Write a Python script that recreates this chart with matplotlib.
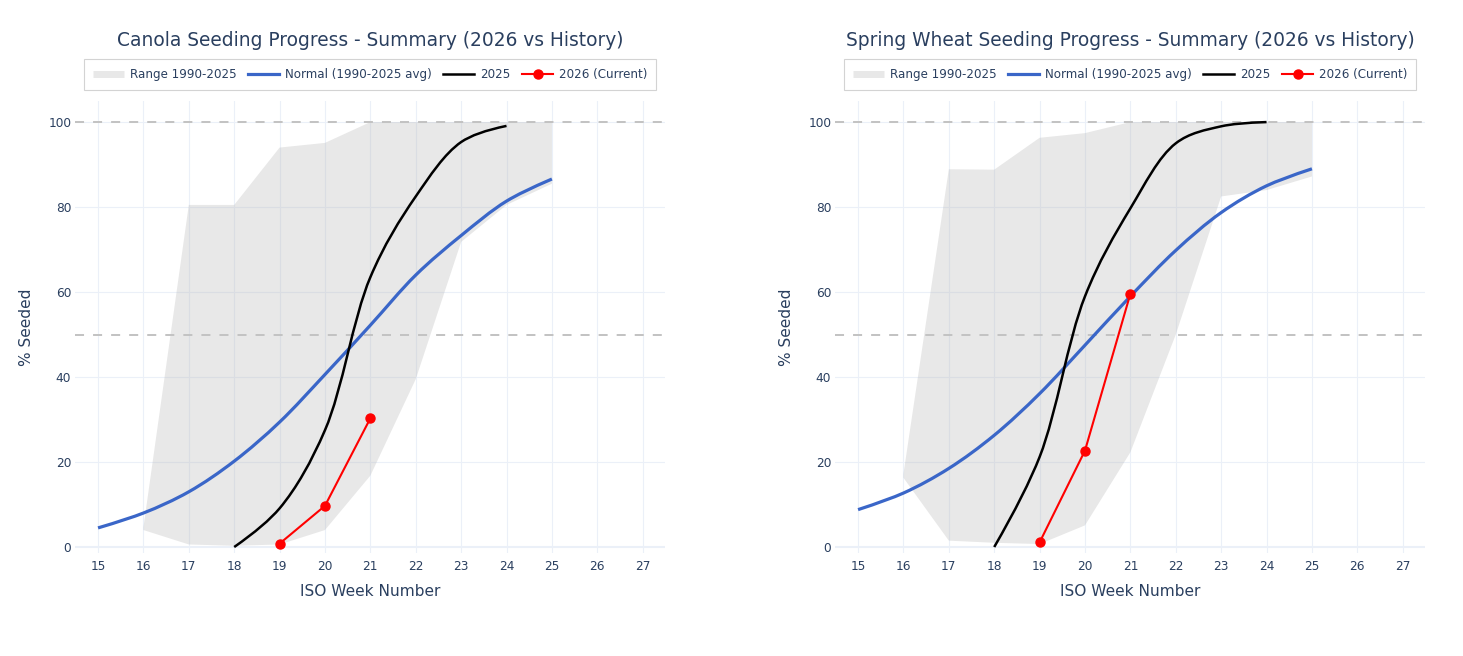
import matplotlib
matplotlib.use("Agg")
import matplotlib.pyplot as plt
from matplotlib.lines import Line2D
from matplotlib.path import Path
from matplotlib.patches import PathPatch


# Values
NORMAL_WEEKS = [15, 16, 17, 18, 19, 20, 21, 22, 23, 24, 25]
RANGE_WEEKS = [16, 17, 18, 19, 20, 21, 22, 23, 24, 25]
WEEKS_2025 = [18, 19, 20, 21, 22, 23, 24]
WEEKS_2026 = [19, 20, 21]

CANOLA_NORMAL = [4.5, 8.0, 13.0, 20.2, 29.4, 40.6, 52.2, 64.0, 73.3, 81.4, 86.6]
CANOLA_RANGE_MIN = [4.0, 0.6, 0.3, 0.6, 4.0, 16.8, 39.5, 71.8, 80.5, 85.5]
CANOLA_RANGE_MAX = [4.6, 80.5, 80.5, 94.0, 95.1, 100.0, 100.0, 100.0, 100.0, 100.0]
CANOLA_2025 = [0.0, 9.1, 27.5, 63.5, 82.5, 95.3, 99.1]
CANOLA_2026 = [0.8, 9.7, 30.3]

WHEAT_NORMAL = [8.8, 12.7, 18.5, 26.3, 36.1, 47.5, 59.0, 69.8, 78.7, 85.0, 89.0]
WHEAT_RANGE_MIN = [16.3, 1.5, 1.0, 0.7, 5.1, 22.3, 50.0, 82.5, 84.0, 87.2]
WHEAT_RANGE_MAX = [17.2, 88.9, 88.8, 96.3, 97.4, 100.0, 100.0, 100.0, 100.0, 100.0]
WHEAT_2025 = [0.0, 21.2, 59.0, 79.7, 95.0, 99.0, 100.0]
WHEAT_2026 = [1.1, 22.7, 59.6]

TITLES = [
    "Canola Seeding Progress - Summary (2026 vs History)",
    "Spring Wheat Seeding Progress - Summary (2026 vs History)",
]
LEGEND_LABELS = ["Range 1990-2025", "Normal (1990-2025 avg)", "2025", "2026 (Current)"]
X_TICKS = list(range(15, 28))
Y_TICKS = [0, 20, 40, 60, 80, 100]
REF_LINES = [50, 100]

FONT_COLOR = "#2a3f5f"
GRID_COLOR = "#ebf0f8"
BLUE = "#3a66c8"
BAND = (0.70, 0.70, 0.70, 0.30)

# pixels per data unit, used to smooth the lines like a spline in screen space
PX_X = 45.4
PX_Y = 4.25


def make_tangent(prev, this, nxt):
    d1x, d1y = prev[0] - this[0], prev[1] - this[1]
    d2x, d2y = nxt[0] - this[0], nxt[1] - this[1]
    d1a = (d1x * d1x + d1y * d1y) ** 0.25
    d2a = (d2x * d2x + d2y * d2y) ** 0.25
    numx = d2a * d2a * d1x - d1a * d1a * d2x
    numy = d2a * d2a * d1y - d1a * d1a * d2y
    den1 = 3 * d2a * (d1a + d2a)
    den2 = 3 * d1a * (d1a + d2a)
    back = (this[0] + numx / den1, this[1] + numy / den1)
    fwd = (this[0] - numx / den2, this[1] - numy / den2)
    return back, fwd


def spline_path(xs, ys):
    """Smooth curve through the points, built as bezier segments."""
    pts = [(x * PX_X, y * PX_Y) for x, y in zip(xs, ys)]
    n = len(pts)
    tans = [make_tangent(pts[i - 1], pts[i], pts[i + 1]) for i in range(1, n - 1)]
    verts = [pts[0], tans[0][0], pts[1]]
    codes = [Path.MOVETO, Path.CURVE3, Path.CURVE3]
    for i in range(2, n - 1):
        verts += [tans[i - 2][1], tans[i - 1][0], pts[i]]
        codes += [Path.CURVE4] * 3
    verts += [tans[n - 3][1], pts[n - 1]]
    codes += [Path.CURVE3] * 2
    verts = [(vx / PX_X, vy / PX_Y) for vx, vy in verts]
    return Path(verts, codes)


def draw_panel(ax, title, normal, rmin, rmax, y2025, y2026):
    ax.set_xlim(14.5, 27.5)
    ax.set_ylim(-1.5, 105)

    for x in X_TICKS:
        ax.axvline(x, color=GRID_COLOR, lw=0.8, zorder=0)
    for y in Y_TICKS:
        ax.axhline(y, color=GRID_COLOR, lw=1.5 if y == 0 else 0.8, zorder=0)

    ax.fill_between(RANGE_WEEKS, rmin, rmax, facecolor=BAND, edgecolor="none", zorder=1)

    for y in REF_LINES:
        ax.axhline(y, color="#c2c2c2", lw=1.4, linestyle=(0, (6.5, 6.5)), zorder=2)

    ax.add_patch(PathPatch(spline_path(NORMAL_WEEKS, normal), fill=False,
                           edgecolor=BLUE, lw=2.3, zorder=3))
    ax.add_patch(PathPatch(spline_path(WEEKS_2025, y2025), fill=False,
                           edgecolor="black", lw=1.8, zorder=4))
    ax.plot(WEEKS_2026, y2026, color="red", lw=1.5, marker="o", markersize=6.5,
            zorder=5, clip_on=False)

    ax.set_xticks(X_TICKS)
    ax.set_yticks(Y_TICKS)
    ax.tick_params(length=0, labelsize=8.7, labelcolor=FONT_COLOR)
    ax.tick_params(axis="x", pad=5)
    ax.tick_params(axis="y", pad=3)
    for spine in ax.spines.values():
        spine.set_visible(False)

    ax.set_xlabel("ISO Week Number", fontsize=11.1, color=FONT_COLOR, labelpad=8)
    ax.set_ylabel("% Seeded", fontsize=11.1, color=FONT_COLOR, labelpad=10)
    ax.text(0.5, 1.134, title, transform=ax.transAxes, ha="center", va="center",
            fontsize=13.4, color=FONT_COLOR)

    handles = [
        Line2D([], [], color="#e8e8e8", lw=5, solid_capstyle="butt"),
        Line2D([], [], color=BLUE, lw=2.3),
        Line2D([], [], color="black", lw=1.8),
        Line2D([], [], color="red", lw=1.5, marker="o", markersize=6.5),
    ]
    leg = ax.legend(handles, LEGEND_LABELS, ncol=4, loc="lower center",
                    bbox_to_anchor=(0.5, 1.024), fontsize=8.6, frameon=True,
                    fancybox=False, handlelength=2.6, handletextpad=0.5,
                    columnspacing=0.95, borderpad=0.75, borderaxespad=0)
    frame = leg.get_frame()
    frame.set_edgecolor("#c8c8c8")
    frame.set_linewidth(0.8)
    for text in leg.get_texts():
        text.set_color(FONT_COLOR)


def main():
    plt.rcParams["font.family"] = ["DejaVu Sans"]
    plt.rcParams["lines.scale_dashes"] = False

    fig = plt.figure(figsize=(14.63, 6.56), dpi=100)
    ax_left = fig.add_axes([0.0515, 0.1564, 0.4033, 0.6899])
    ax_right = fig.add_axes([0.5710, 0.1564, 0.4033, 0.6899])

    draw_panel(ax_left, TITLES[0], CANOLA_NORMAL, CANOLA_RANGE_MIN,
               CANOLA_RANGE_MAX, CANOLA_2025, CANOLA_2026)
    draw_panel(ax_right, TITLES[1], WHEAT_NORMAL, WHEAT_RANGE_MIN,
               WHEAT_RANGE_MAX, WHEAT_2025, WHEAT_2026)

    fig.savefig("out.png", dpi=100, facecolor="white")
    plt.close(fig)


if __name__ == "__main__":
    main()
